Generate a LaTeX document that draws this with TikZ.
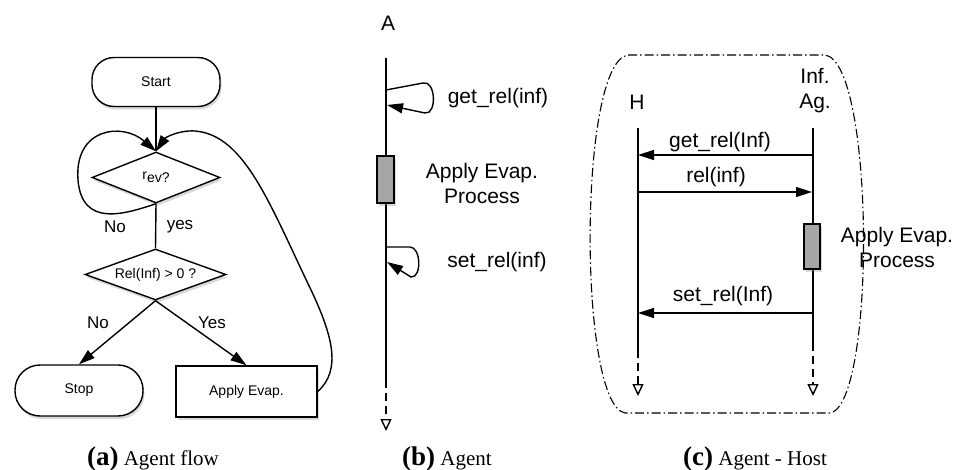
\documentclass[tikz,border=0pt]{standalone}
\usepackage{fontspec}
\setmainfont{Liberation Serif}
\setsansfont{Liberation Sans}
\usetikzlibrary{arrows.meta,shapes.geometric,shadows}
\begin{document}
\begin{tikzpicture}[x=1pt,y=-1pt,line width=1.4pt,
  arr/.style={-{Triangle[length=16pt,width=10pt]}},
  lifeend/.style={dash pattern=on 8pt off 5pt,-{Triangle[open,length=12pt,width=11pt]}},
  lbl/.style={font=\sffamily\fontsize{21}{25}\selectfont,inner sep=0pt},
  small/.style={font=\sffamily\fontsize{14}{16}\selectfont},
  mid/.style={font=\sffamily\fontsize{17}{19}\selectfont,inner sep=0pt},
  shd/.style={drop shadow={opacity=0.3,shadow xshift=1.5pt,shadow yshift=-3pt}},
  term/.style={draw,fill=white,shd,small,minimum width=128pt,minimum height=49pt},
  dia/.style={draw,diamond,fill=white,shd,small,inner sep=0pt,aspect=2.6},
  act/.style={draw,fill=black!35,shd,inner sep=0pt,minimum width=17pt,minimum height=47pt},
  captionnode/.style={anchor=base,inner sep=0pt,font=\fontsize{21}{24}\selectfont},
  bound/.style={line width=1.1pt,dash pattern=on 9pt off 3pt on 1.5pt off 3pt}]
\useasboundingbox (0,0) rectangle (963,470);

% ---------- (a) flowchart ----------
\node[term,rounded corners=22pt] (start) at (156,82) {Start};
\node[dia,minimum width=128pt,minimum height=51pt] (d1) at (156,177.5) {r\raisebox{-0.45ex}{ev?}};
\node[dia,minimum width=141pt,minimum height=51pt] (d2) at (155.5,274.5) {Rel(Inf) > 0 ?};
\node[term,rounded corners=25pt,minimum height=51pt] (stop) at (79,390.5) {Stop};
\node[term,minimum width=141pt,minimum height=51pt] (apply) at (246.5,391.5) {Apply Evap.};

\draw (start.south) -- (d1.north);
\draw (d1.south) -- (d2.north);
\draw[arr] (d1.south) .. controls (125,214) and (82,228) .. (78,180)
  .. controls (74,128) and (122,122) .. (d1.north);
\draw[arr] (apply.east) .. controls (342,370) and (332,335) .. (312,292)
  .. controls (270,205) and (245,135) .. (195,131)
  .. controls (178,130) and (165,138) .. (d1.north);
\draw[arr] (d2.south) -- (stop.north);
\draw[arr] (d2.south) -- (apply.north);

\node[mid] (no1) at (115,227) {No};
\node[mid] (yes1) at (180,227) {yes};
\node[mid] (no2) at (98,323) {No};
\node[mid] (yes2) at (212,323) {Yes};

\node[captionnode] (capa) at (153,465) {{\fontsize{27}{30}\selectfont\bfseries (a)}\ Agent flow};

% ---------- (b) agent ----------
\node[lbl] (Alab) at (388,23) {A};
\coordinate (Atop) at (386,58);
\coordinate (Asol) at (386,380);
\coordinate (Aend) at (386,431);
\draw (Atop) -- (Asol);
\draw[lifeend] (Asol) -- (Aend);
\node[act] (actA) at (385.5,179.5) {};
\coordinate (g1) at (386,90);
\coordinate (g2) at (387,105);
\coordinate (s1) at (386,247);
\coordinate (s2) at (387,262);
\draw[arr] (g1) -- (423,83) .. controls (436,80) and (437,115) .. (425,113) -- (g2);
\draw[arr] (s1) -- (410,247) .. controls (421,247) and (422,278) .. (411,277) -- (s2);
\node[lbl] (getA) at (498,98) {get\_rel(inf)};
\node[lbl,align=center] (applyA) at (482,183) {Apply Evap.\\Process};
\node[lbl] (setA) at (497,262) {set\_rel(inf)};
\node[captionnode] (capb) at (447,465) {{\fontsize{27}{30}\selectfont\bfseries (b)}\ Agent};

% ---------- (c) agent - host ----------
\draw[bound] (628,55) -- (825,55) .. controls (875,62) and (876,405) .. (830,413)
  -- (625,413) .. controls (578,405) and (578,62) .. (628,55);
\node[lbl] (Hlab) at (637,102) {H};
\node[lbl,align=center] (Glab) at (815,91) {Inf.\\Ag.};
\coordinate (Htop) at (638,128);
\coordinate (Hsol) at (638,350);
\coordinate (Hend) at (638,396);
\coordinate (Gtop) at (813,128);
\coordinate (Gsol) at (813,343);
\coordinate (Gend) at (813,396);
\draw (Htop) -- (Hsol);
\draw[lifeend] (Hsol) -- (Hend);
\draw (Gtop) -- (Gsol);
\draw[lifeend] (Gsol) -- (Gend);
\node[act,minimum width=16pt,minimum height=45pt] (actG) at (812,246.5) {};
\coordinate (h1) at (638,155);
\coordinate (a1) at (813,155);
\coordinate (h2) at (638,192);
\coordinate (a2) at (812,192);
\coordinate (h3) at (638,313);
\coordinate (a3) at (813,313);
\draw[arr] (a1) -- (h1);
\draw[arr] (h2) -- (a2);
\draw[arr] (a3) -- (h3);
\node[lbl] (m1) at (720,142) {get\_rel(Inf)};
\node[lbl] (m2) at (716,177) {rel(inf)};
\node[lbl] (m3) at (723,296) {set\_rel(Inf)};
\node[lbl,align=center] (applyG) at (897,247) {Apply Evap.\\Process};
\node[captionnode] (capc) at (755,465) {{\fontsize{27}{30}\selectfont\bfseries (c)}\ Agent - Host};
\end{tikzpicture}
\end{document}
